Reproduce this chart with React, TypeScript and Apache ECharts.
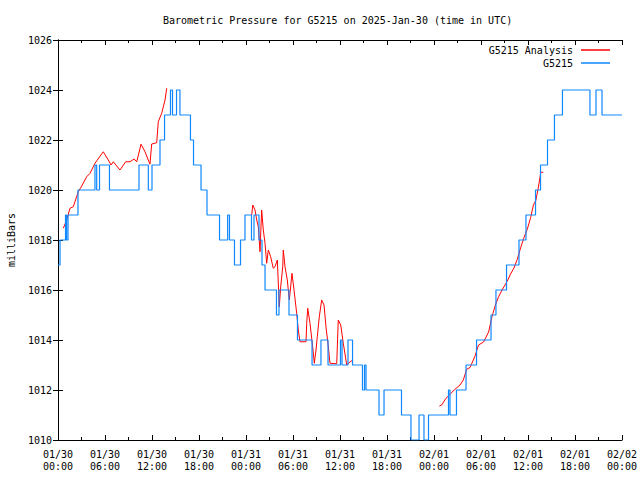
import { useEffect, useRef } from 'react';
import * as echarts from 'echarts';

const titleText = 'Barometric Pressure for G5215 on 2025-Jan-30 (time in UTC)';
const yAxisName = 'milliBars';
const analysisName = 'G5215 Analysis';
const obsName = 'G5215';

const xTickDates = ['01/30', '01/30', '01/30', '01/30', '01/31', '01/31', '01/31', '01/31', '02/01', '02/01', '02/01', '02/01', '02/02'];
const xTickTimes = ['00:00', '06:00', '12:00', '18:00', '00:00', '06:00', '12:00', '18:00', '00:00', '06:00', '12:00', '18:00', '00:00'];

// Observations: hours after 2025-01-30 00:00 UTC at which the reading changes, and the new reading (mb)
const obsHours = [
  0, 0.26, 0.96, 1.09, 1.28, 2.55, 4.72, 4.94, 5.3, 6.57, 10.34, 11.53, 12.0, 13.02, 13.6, 14.36, 14.62, 15.13, 15.57,
  16.91, 17.3, 18.26, 19.02, 20.62, 21.66, 21.89, 22.53, 23.3, 23.87, 24.7, 25.02, 25.66, 26.04, 26.43, 27.89, 28.21,
  29.49, 30.57, 32.43, 33.57, 34.47, 36.06, 36.26, 37.02, 37.6, 38.87, 39.13, 39.32, 40.98, 41.62, 43.85, 45.06, 46.09,
  46.72, 47.3, 49.85, 50.04, 50.87, 52.09, 53.43, 55.28, 55.91, 57.26, 58.85, 59.74, 60.96, 61.6, 62.49, 63.38, 64.4,
  67.91, 68.68, 69.45, 72,
];
const obsPressure = [
  1017, 1018, 1019, 1018, 1019, 1020, 1021, 1020, 1021, 1020, 1021, 1020, 1021, 1022, 1023, 1024, 1023, 1024, 1023,
  1022, 1021, 1020, 1019, 1018, 1019, 1018, 1017, 1018, 1019, 1018, 1019, 1018, 1017, 1016, 1015, 1016,
  1015, 1014, 1013, 1014, 1013, 1014, 1013, 1014, 1013, 1012, 1013, 1012, 1011, 1012, 1011, 1010, 1011,
  1010, 1011, 1012, 1011, 1012, 1013, 1014, 1015, 1016, 1017, 1018, 1019, 1020, 1021, 1022, 1023, 1024,
  1023, 1024, 1023, 1023,
];

// Analysis, three separate pieces
const anaHours1 = [0.68, 1.11, 1.53, 1.95, 2.59, 3.03, 3.66, 4.09, 4.72, 5.78, 6.42, 6.77, 7.06, 7.91, 8.64, 9.19, 9.7, 10.05, 10.6, 11.11, 11.74, 11.96, 12.6, 12.8, 13.24, 13.66, 13.88];
const anaPressure1 = [1018.47, 1018.8, 1019.27, 1019.33, 1019.93, 1020.16, 1020.53, 1020.67, 1021.07, 1021.53, 1021.2, 1021.0, 1021.13, 1020.8, 1021.13, 1021.13, 1021.24, 1021.13, 1021.83, 1021.53, 1021.03, 1021.84, 1021.89, 1022.73, 1023.07, 1023.6, 1024.07];

const anaHours2 = [24.73, 24.86, 25.15, 25.37, 25.57, 25.79, 26.0, 26.21, 26.43, 26.64, 26.85, 27.15, 27.48, 27.7, 28.0, 28.25, 28.43, 28.69, 28.76, 28.98, 29.27, 29.53, 29.62, 29.87, 30.13, 30.47, 30.68, 30.89, 31.66, 31.75, 31.88, 32.17, 32.51, 32.72, 32.94, 33.1, 33.36, 33.66, 33.96, 34.21, 34.51, 34.72, 35.58, 35.78, 36.09, 36.42, 36.86, 37.06, 37.62];
const anaPressure2 = [1019.0, 1019.4, 1019.2, 1018.8, 1018.53, 1017.53, 1019.2, 1018.4, 1017.87, 1017.07, 1017.6, 1017.33, 1016.87, 1016.93, 1017.2, 1015.33, 1016.13, 1016.93, 1017.6, 1016.93, 1016.4, 1015.6, 1015.87, 1016.67, 1016.0, 1015.07, 1014.4, 1013.93, 1013.93, 1014.67, 1015.27, 1014.67, 1013.73, 1013.07, 1013.6, 1014.13, 1014.93, 1015.6, 1015.4, 1014.53, 1013.73, 1013.07, 1013.05, 1014.8, 1014.6, 1013.87, 1013.0, 1013.07, 1013.2];

const anaHours3 = [48.68, 48.98, 49.53, 49.95, 50.68, 51.32, 51.74, 52.17, 52.6, 53.23, 53.68, 54.33, 54.97, 55.4, 55.84, 56.26, 56.69, 57.33, 57.77, 58.21, 58.62, 59.06, 59.49, 59.91, 60.34, 60.69, 61.0, 61.29, 61.54, 61.63, 61.94];
const anaPressure3 = [1011.36, 1011.4, 1011.67, 1011.8, 1012.03, 1012.2, 1012.4, 1012.83, 1012.9, 1013.35, 1013.8, 1013.92, 1014.32, 1014.93, 1015.4, 1015.74, 1016.0, 1016.34, 1016.64, 1016.88, 1017.22, 1017.69, 1018.1, 1018.43, 1018.9, 1019.4, 1019.58, 1020.05, 1020.52, 1020.72, 1020.7];

const FONT = '"DejaVu Sans Mono", "Liberation Mono", monospace';

export default function App() {
  const ref = useRef<HTMLDivElement>(null);
  useEffect(() => {
    if (!ref.current) return;
    const chart = echarts.init(ref.current, undefined, { renderer: 'svg' });

    const obsData = obsHours.map((h, i) => [h, obsPressure[i]]);
    const pieces = [
      [anaHours1, anaPressure1],
      [anaHours2, anaPressure2],
      [anaHours3, anaPressure3],
    ];
    const anaData: any[] = [];
    pieces.forEach(([hs, ps], k) => {
      if (k > 0) anaData.push([(hs[0] + anaData[anaData.length - 1][0]) / 2, null]);
      hs.forEach((h, i) => anaData.push([h, ps[i]]));
    });

    const textBase = { fontFamily: FONT, fontSize: 10, color: '#000' };
    const axisLine = { show: true, lineStyle: { color: '#000', width: 1 } };

    chart.setOption({
      animation: false,
      backgroundColor: '#fff',
      title: {
        text: titleText,
        left: 163,
        top: 14,
        padding: 0,
        textStyle: { ...textBase, fontWeight: 'normal', lineHeight: 12 },
      },
      legend: {
        orient: 'vertical',
        right: 30,
        top: 44,
        padding: 0,
        itemGap: 1,
        align: 'right',
        itemWidth: 29,
        itemHeight: 1.5,
        icon: 'rect',
        textStyle: { ...textBase, lineHeight: 12, padding: [0, 3, 0, 0] },
        data: [
          { name: analysisName, itemStyle: { color: '#ff0000' } },
          { name: obsName, itemStyle: { color: '#0f87ff' } },
        ],
      },
      grid: { left: 58, right: 18, top: 40, bottom: 40, containLabel: false, outerBoundsMode: 'none' },
      xAxis: [
        {
          type: 'value',
          position: 'bottom',
          min: 0,
          max: 72,
          interval: 6,
          axisLine,
          axisTick: { show: true, inside: true, length: 5, lineStyle: { color: '#000' } },
          minorTick: { show: true, splitNumber: 2, length: 3, lineStyle: { color: '#000' } },
          splitLine: { show: false },
          axisLabel: {
            ...textBase,
            margin: 8,
            lineHeight: 12,
            formatter: (v: number) => {
              const i = Math.round(v / 6);
              return xTickDates[i] + '\n' + xTickTimes[i];
            },
          },
        },
        {
          type: 'value',
          position: 'top',
          min: 0,
          max: 72,
          interval: 6,
          axisLine,
          axisTick: { show: true, inside: true, length: 5, lineStyle: { color: '#000' } },
          minorTick: { show: true, splitNumber: 2, length: 3, lineStyle: { color: '#000' } },
          splitLine: { show: false },
          axisLabel: { show: false },
        },
      ],
      yAxis: [
        {
          type: 'value',
          position: 'left',
          min: 1010,
          max: 1026,
          interval: 2,
          name: yAxisName,
          nameLocation: 'middle',
          nameRotate: 90,
          nameGap: 40,
          nameTextStyle: { ...textBase, lineHeight: 12 },
          axisLine,
          axisTick: { show: true, inside: true, length: 5, lineStyle: { color: '#000' } },
          splitLine: { show: false },
          axisLabel: { ...textBase, margin: 6, formatter: (v: number) => String(v) },
        },
        {
          type: 'value',
          position: 'right',
          min: 1010,
          max: 1026,
          interval: 2,
          axisLine,
          axisTick: { show: true, inside: true, length: 5, lineStyle: { color: '#000' } },
          splitLine: { show: false },
          axisLabel: { show: false },
        },
      ],
      series: [
        {
          name: analysisName,
          type: 'line',
          data: anaData,
          showSymbol: false,
          symbol: 'none',
          connectNulls: false,
          lineStyle: { color: '#ff0000', width: 1 },
          itemStyle: { color: '#ff0000' },
          z: 2,
        },
        {
          name: obsName,
          type: 'line',
          step: 'end',
          data: obsData,
          showSymbol: false,
          symbol: 'none',
          lineStyle: { color: '#0f87ff', width: 1.2 },
          itemStyle: { color: '#0f87ff' },
          z: 3,
        },
      ],
    });
    return () => chart.dispose();
  }, []);
  return <div ref={ref} style={{ width: 640, height: 480, position: 'absolute', left: 0, top: 0 }} />;
}
